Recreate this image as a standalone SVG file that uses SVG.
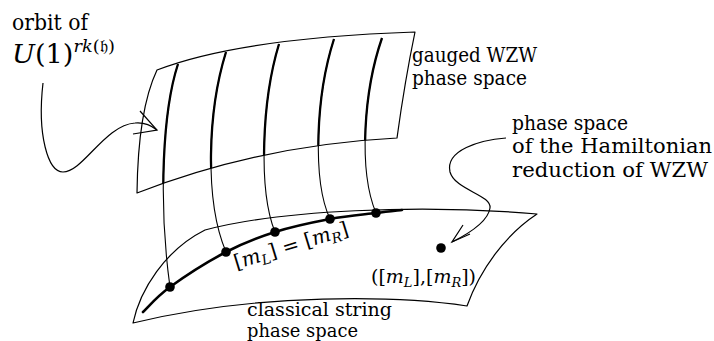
<svg xmlns="http://www.w3.org/2000/svg" width="714" height="341" viewBox="0 0 714 341">
<style>
.edge{fill:none;stroke:#000;stroke-width:1.2;stroke-linejoin:round}
.fib{fill:none;stroke:#000;stroke-width:1.1}
.fibt{fill:none;stroke:#000;stroke-width:2.3}
.str{fill:none;stroke:#000;stroke-width:2.6;stroke-linecap:round}
.arr{fill:none;stroke:#000;stroke-width:1.2}
.i{font-style:italic}
</style>
<defs>
<clipPath id="upclip"><path d="M157,70 Q240,38 415,32 Q405,80 397,138 Q260,145 137,193 Q138,110 157,70 Z"/></clipPath>
</defs>
<rect width="714" height="341" fill="#fff"/>
<g id="upper-sheet">
<path class="edge" d="M157,70 Q240,38 415,32 Q405,80 397,138 Q260,145 137,193 Q138,110 157,70 Z"/>
</g>
<g id="lower-sheet">
<path class="edge" d="M133,323 C140,290 165,250 205,230 C280,210 420,204 537,214 C505,235 480,270 467,306 C400,296 260,292 133,323 Z"/>
</g>
<g id="connectors">
<g id="fibers">
<path class="fib" d="M178,64 C163,110 158,200 170,287"/>
<path class="fib" d="M226,52 C208,110 204,200 226,252"/>
<path class="fib" d="M279,44 C262,100 258,190 275,232"/>
<path class="fib" d="M334,39 C316,95 312,180 330,219"/>
<path class="fib" d="M382,38 C364,90 358,170 376,213"/>
<g clip-path="url(#upclip)">
<path class="fibt" d="M178,64 C163,110 158,200 170,287"/>
<path class="fibt" d="M226,52 C208,110 204,200 226,252"/>
<path class="fibt" d="M279,44 C262,100 258,190 275,232"/>
<path class="fibt" d="M334,39 C316,95 312,180 330,219"/>
<path class="fibt" d="M382,38 C364,90 358,170 376,213"/>
</g>
</g>
<path id="classical-string" class="str" d="M143,312 C147.5,307.8 156.2,297 170,287 C183.8,277 208.5,261.2 226,252 C243.5,242.8 257.7,237.5 275,232 C292.3,226.5 313.2,222.2 330,219 C346.8,215.8 364,214.5 376,213 C388,211.5 397.7,210.5 402,210"/>
<g id="arrow-orbit">
<path class="arr" d="M43,83 C37,135 48,172 63,172 C83,172 105,125 135,123 C145,122 152,126 157,130"/>
<path class="arr" d="M140,111 L157,130 L133,134"/>
</g>
<g id="arrow-hamiltonian">
<path class="arr" d="M506,138 C480,140 445,150 450,172 C455,190 492,195 490,208 C488,222 468,234 452,242"/>
<path class="arr" d="M470,234 L452,242 L463,225"/>
</g>
</g>
<g id="points">
<circle cx="170" cy="287" r="4.8"/>
<circle cx="226" cy="252" r="4.8"/>
<circle cx="275" cy="232" r="4.8"/>
<circle cx="330" cy="219" r="4.8"/>
<circle cx="376" cy="213" r="4.8"/>
<circle id="reduced-point" cx="441" cy="248" r="4.8"/>
</g>
<g id="labels" font-family="DejaVu Serif, serif" fill="#000">
<g id="label-orbit">
<text x="12" y="30" font-size="22" textLength="76" lengthAdjust="spacingAndGlyphs">orbit of</text>
<text x="12" y="63" font-size="26" textLength="103" lengthAdjust="spacingAndGlyphs"><tspan class="i">U</tspan>(1)<tspan class="i" font-size="17" dy="-11">rk</tspan><tspan font-size="17">(𝔥)</tspan></text>
</g>
<g id="label-gauged">
<text x="412" y="62" font-size="21" textLength="125" lengthAdjust="spacingAndGlyphs">gauged WZW</text>
<text x="412" y="85" font-size="21" textLength="115" lengthAdjust="spacingAndGlyphs">phase space</text>
</g>
<g id="label-hamiltonian">
<text x="512" y="130" font-size="21" textLength="116" lengthAdjust="spacingAndGlyphs">phase space</text>
<text x="512" y="153" font-size="21" textLength="200" lengthAdjust="spacingAndGlyphs">of the Hamiltonian</text>
<text x="512" y="177" font-size="21" textLength="196" lengthAdjust="spacingAndGlyphs">reduction of WZW</text>
</g>
<g id="label-string">
<text x="247" y="316" font-size="19" textLength="145" lengthAdjust="spacingAndGlyphs">classical string</text>
<text x="247" y="337" font-size="19" textLength="111" lengthAdjust="spacingAndGlyphs">phase space</text>
</g>
<g id="label-equal">
<text font-size="20" text-anchor="middle" transform="translate(293,252) rotate(-17)">[<tspan class="i">m</tspan><tspan class="i" font-size="14" dy="4">L</tspan><tspan dy="-4">] = [</tspan><tspan class="i">m</tspan><tspan class="i" font-size="14" dy="4">R</tspan><tspan dy="-4">]</tspan></text>
</g>
<g id="label-pair">
<text x="371" y="283" font-size="19">([<tspan class="i">m</tspan><tspan class="i" font-size="13" dy="4">L</tspan><tspan dy="-4">],[</tspan><tspan class="i">m</tspan><tspan class="i" font-size="13" dy="4">R</tspan><tspan dy="-4">])</tspan></text>
</g>
</g>
</svg>
